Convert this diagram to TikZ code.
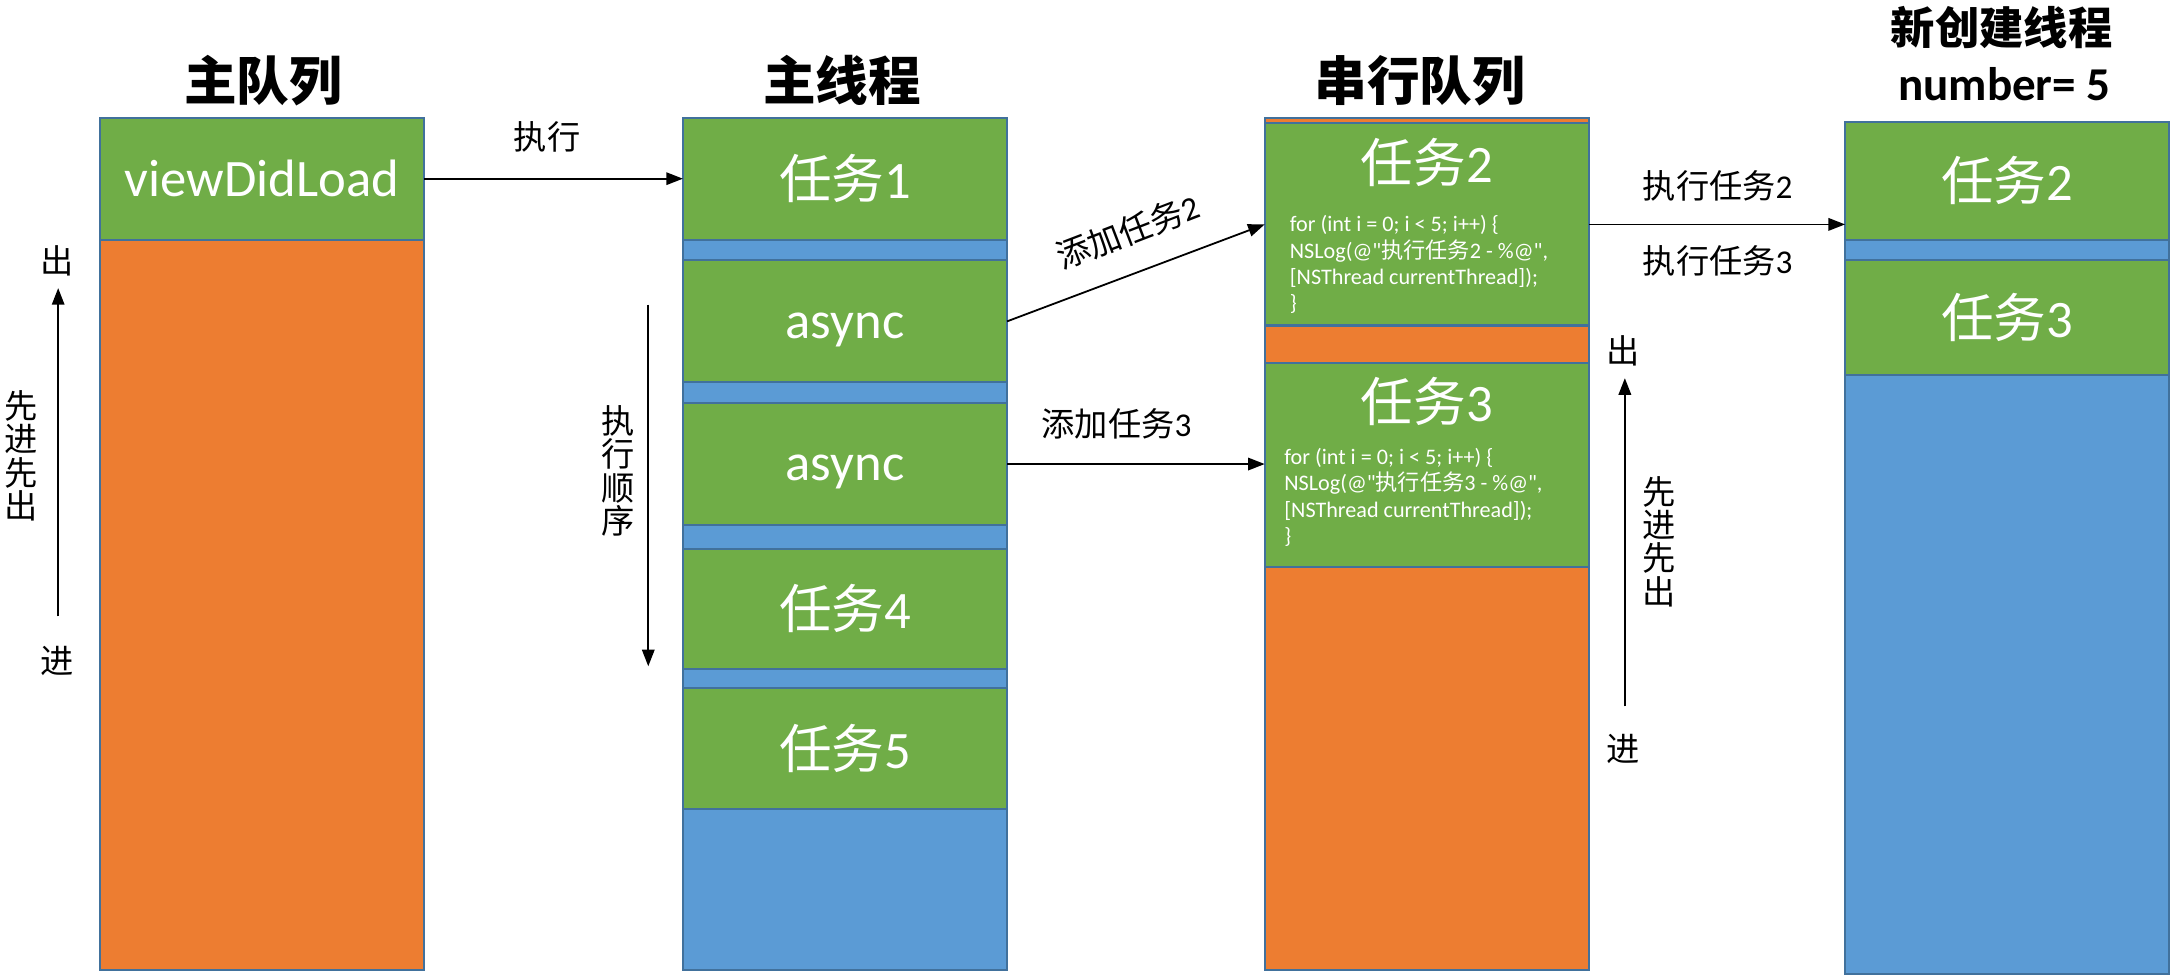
\documentclass[tikz,border=0pt]{standalone}
\usepackage{fontspec}
\setmainfont{Carlito}
\newfontfamily\cjk{Noto Sans CJK SC}
\newfontfamily\carl{Carlito}
\usetikzlibrary{arrows.meta}
\definecolor{cgreen}{HTML}{70AD47}
\definecolor{corange}{HTML}{ED7D31}
\definecolor{cblue}{HTML}{5B9BD5}
\definecolor{cedge}{HTML}{41719C}
\newcommand\segbox[6]{\node[seg, fill=#2, minimum height=#5-#4, anchor=north west] (#1) at (#3,#4) {#6};}
\begin{document}
\begin{tikzpicture}[x=1pt,y=-1pt,
  seg/.style={draw=cedge, line width=1.5pt, minimum width=234, inner sep=0pt, outer sep=0pt,
    text=white, font=\carl\fontsize{38}{44}\selectfont},
  segtxt/.style={inner sep=0pt, text=white, font=\carl\fontsize{38}{44}\selectfont},
  title/.style={font=\cjk\bfseries\fontsize{38}{44}\selectfont, text=black},
  lbl/.style={font=\cjk\fontsize{24}{28}\selectfont, text=black, inner sep=0pt},
  vlbl/.style={font=\cjk\fontsize{24}{24}\selectfont, text=black, inner sep=0pt, align=center},
  code/.style={font=\carl\fontsize{16}{19}\selectfont, text=white, align=left, inner sep=0pt, anchor=west},
  arr/.style={line width=1.3pt, -{Triangle[length=12pt,width=9pt]}}
]
\useasboundingbox (0,0) rectangle (1568,706);

% titles
\node[title] (tA) at (190,58) {主队列};
\node[title] (tB) at (608,58) {主线程};
\node[title] (tC) at (1025,58) {串行队列};
\node[title, font=\cjk\bfseries\fontsize{32}{38}\selectfont] (tD) at (1445,20) {新创建线程};
\node[font=\carl\bfseries\fontsize{34}{40}\selectfont] (tD2) at (1447,61) {number= 5};

% column A: main queue
\segbox{a1}{cgreen}{72}{85}{173}{viewDidLoad}
\segbox{a2}{corange}{72}{173}{700}{}

% column B: main thread
\segbox{b1}{cgreen}{493}{85}{173}{{\cjk 任务}1}
\segbox{b1s}{cblue}{493}{173}{188}{}
\segbox{b2}{cgreen}{493}{188}{276}{}
\segbox{b2s}{cblue}{493}{276}{291}{}
\segbox{b3}{cgreen}{493}{291}{379}{}
\segbox{b3s}{cblue}{493}{379}{396}{}
\segbox{b4}{cgreen}{493}{396}{483}{{\cjk 任务}4}
\segbox{b4s}{cblue}{493}{483}{497}{}
\segbox{b5}{cgreen}{493}{497}{584}{{\cjk 任务}5}
\segbox{b6}{cblue}{493}{584}{700}{}
\node[segtxt] (b2t) at ([yshift=-6pt]b2.center) {async};
\node[segtxt] (b3t) at ([yshift=-6pt]b3.center) {async};

% column C: serial queue
\segbox{c0}{corange}{913}{85}{89}{}
\segbox{c2}{cgreen}{913}{89}{235}{}
\segbox{c2s}{corange}{913}{235}{262}{}
\segbox{c3}{cgreen}{913}{262}{409}{}
\segbox{c4}{corange}{913}{409}{700}{}
\node[segtxt] (c2t) at (1030,117) {{\cjk 任务}2};
\node[code] (c2c) at (931,191) {for (int i = 0; i < 5; i++) \{\\NSLog(@"{\cjk 执行任务}2 - \%@",\\{}[NSThread currentThread]);\\\}};
\node[segtxt] (c3t) at (1030,290) {{\cjk 任务}3};
\node[code] (c3c) at (927,359) {for (int i = 0; i < 5; i++) \{\\NSLog(@"{\cjk 执行任务}3 - \%@",\\{}[NSThread currentThread]);\\\}};

% column D: new thread
\segbox{d1}{cgreen}{1332}{88}{173}{{\cjk 任务}2}
\segbox{d1s}{cblue}{1332}{173}{188}{}
\segbox{d2}{cgreen}{1332}{188}{271}{{\cjk 任务}3}
\segbox{d3}{cblue}{1332}{271}{703}{}

% connectors
\draw[arr] (a1.east) -- (b1.west);
\node[lbl] (l1) at (395,99) {执行};
\draw[arr] (b2.east) -- (c2.west);
\node[lbl, rotate=21] (l2) at (814,167) {添加任务{\carl 2}};
\draw[arr] (b3.east) -- (b3.east -| c3.west);
\node[lbl] (l3) at (806,306) {添加任务{\carl 3}};
\draw[arr] (c2.east) -- (c2.east -| d1.west);
\node[lbl] (l4) at (1240,134) {执行任务{\carl 2}};
\node[lbl] (l5) at (1240,188) {执行任务{\carl 3}};

% left FIFO
\coordinate (pA1) at (42,445);
\coordinate (pA2) at (42,208);
\draw[arr] (pA1) -- (pA2);
\node[lbl] (outA) at (41,188) {出};
\node[lbl] (inA) at (41,477) {进};
\node[vlbl] (fifoA) at (15,329) {先\\进\\先\\出};

% execution order
\coordinate (pB1) at (468,220);
\coordinate (pB2) at (468,481);
\draw[arr] (pB1) -- (pB2);
\node[vlbl] (ord) at (446,340) {执\\行\\顺\\序};

% right FIFO
\coordinate (pC1) at (1173,510);
\coordinate (pC2) at (1173,273);
\draw[arr] (pC1) -- (pC2);
\node[lbl] (outC) at (1172,253) {出};
\node[lbl] (inC) at (1172,541) {进};
\node[vlbl] (fifoC) at (1198,391) {先\\进\\先\\出};
\end{tikzpicture}
\end{document}
